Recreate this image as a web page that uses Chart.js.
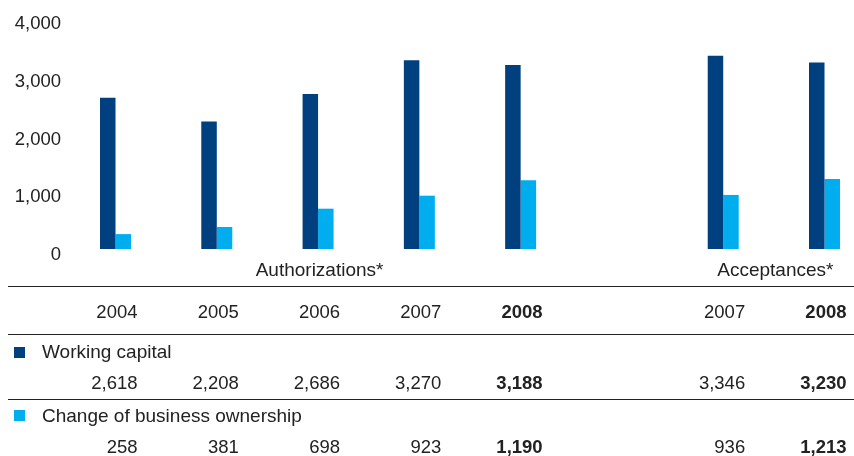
<!DOCTYPE html>
<html>
<head>
<meta charset="utf-8">
<script src="https://cdn.jsdelivr.net/npm/chart.js@4"></script>
<style>
  body { margin: 0; background: #fff; }
  #wrap { position: relative; width: 854px; height: 456px; overflow: hidden;
          font-family: "Liberation Sans", Arial, sans-serif; font-size: 18.5px; color: #222; }
  #wrap canvas { position: absolute; left: 0; top: 0; }
  .t { position: absolute; line-height: 22px; white-space: nowrap; }
  .w { font-size: 19px; }
  .b { font-weight: bold; }
  .rule { position: absolute; left: 8px; right: 0; height: 1px; background: #222; }
  .key { position: absolute; width: 11px; height: 11px; }
</style>
</head>
<body>
<div id="wrap">
  <canvas id="loansChart" width="854" height="456"></canvas>
</div>
<script>
// columns: five years of authorizations, a spacer, two years of acceptances
var years = ['2004', '2005', '2006', '2007', '2008', '', '2007', '2008'];
var boldCols = [4, 7];
var workingCapital = [2618, 2208, 2686, 3270, 3188, null, 3346, 3230];
var ownershipChange = [258, 381, 698, 923, 1190, null, 936, 1213];
var seriesNames = ['Working capital', 'Change of business ownership'];
var groupTitles = ['Authorizations*', 'Acceptances*'];
var groupCols = [[0, 4], [6, 7]];
var yTicks = [0, 1000, 2000, 3000, 4000];

var darkBlue = '#00407f';
var lightBlue = '#00aeef';

var ctx = document.getElementById('loansChart').getContext('2d');
var loansChart = new Chart(ctx, {
	type: 'bar',
	data: {
		labels: years,
		datasets: [{
			label: seriesNames[0],
			data: workingCapital,
			backgroundColor: darkBlue,
			clip: false
		}, {
			label: seriesNames[1],
			data: ownershipChange,
			backgroundColor: lightBlue,
			clip: false
		}]
	},
	options: {
		responsive: false,
		animation: false,
		categoryPercentage: 0.306,
		barPercentage: 1,
		layout: { padding: { top: 18, bottom: 207, right: 29.5, left: 0 } },
		plugins: { legend: { display: false }, tooltip: { enabled: false } },
		scales: {
			x: {
				display: false,
				offset: false
			},
			y: {
				min: yTicks[0],
				max: yTicks[yTicks.length - 1],
				afterBuildTicks: function (scale) {
					scale.ticks = yTicks.map(function (v) { return { value: v }; });
				},
				afterFit: function (scale) {
					// wide gap between labels and first bars, without the extra top/bottom padding
					scale.width = 115.5;
					scale.paddingTop = 0;
					scale.paddingBottom = 0;
				},
				grid: { display: false, drawTicks: false },
				border: { display: false },
				ticks: {
					padding: 54.5,
					labelOffset: 6,
					color: '#222',
					font: { family: 'Liberation Sans', size: 18.5 },
					callback: function (v) { return v.toLocaleString('en-US'); }
				}
			}
		}
	}
});

// table under the bars, columns lined up with the x scale
var wrap = document.getElementById('wrap');
var xs = loansChart.scales.x;

function addText(txt, x, yMid, align, cls) {
	var d = document.createElement('div');
	d.className = 't' + (cls ? ' ' + cls : '');
	d.textContent = txt;
	d.style.top = (yMid - 11) + 'px';
	if (align === 'left') {
		d.style.left = x + 'px';
	} else if (align === 'right') {
		d.style.left = (x - 300) + 'px';
		d.style.width = '300px';
		d.style.textAlign = 'right';
	} else {
		d.style.left = (x - 200) + 'px';
		d.style.width = '400px';
		d.style.textAlign = 'center';
	}
	wrap.appendChild(d);
}
function addRule(y) {
	var r = document.createElement('div');
	r.className = 'rule';
	r.style.top = y + 'px';
	wrap.appendChild(r);
}
function addKey(color, y) {
	var k = document.createElement('div');
	k.className = 'key';
	k.style.left = '14px';
	k.style.top = y + 'px';
	k.style.background = color;
	wrap.appendChild(k);
}
function colRight(i) { return xs.getPixelForValue(i) + 22; }

groupTitles.forEach(function (title, g) {
	var mid = (xs.getPixelForValue(groupCols[g][0]) + xs.getPixelForValue(groupCols[g][1])) / 2;
	addText(title, mid + 1.5, 270, 'center', 'w');
});

addRule(286);
addRule(334);
addRule(399);

addKey(darkBlue, 347);
addText(seriesNames[0], 42, 352, 'left', 'w');
addKey(lightBlue, 410);
addText(seriesNames[1], 42, 416, 'left', 'w');

years.forEach(function (yr, i) {
	if (yr === '') return;
	var b = boldCols.indexOf(i) >= 0 ? 'b' : '';
	addText(yr, colRight(i), 312, 'right', b);
	addText(workingCapital[i].toLocaleString('en-US'), colRight(i), 383, 'right', b);
	addText(ownershipChange[i].toLocaleString('en-US'), colRight(i), 447, 'right', b);
});
</script>
</body>
</html>
